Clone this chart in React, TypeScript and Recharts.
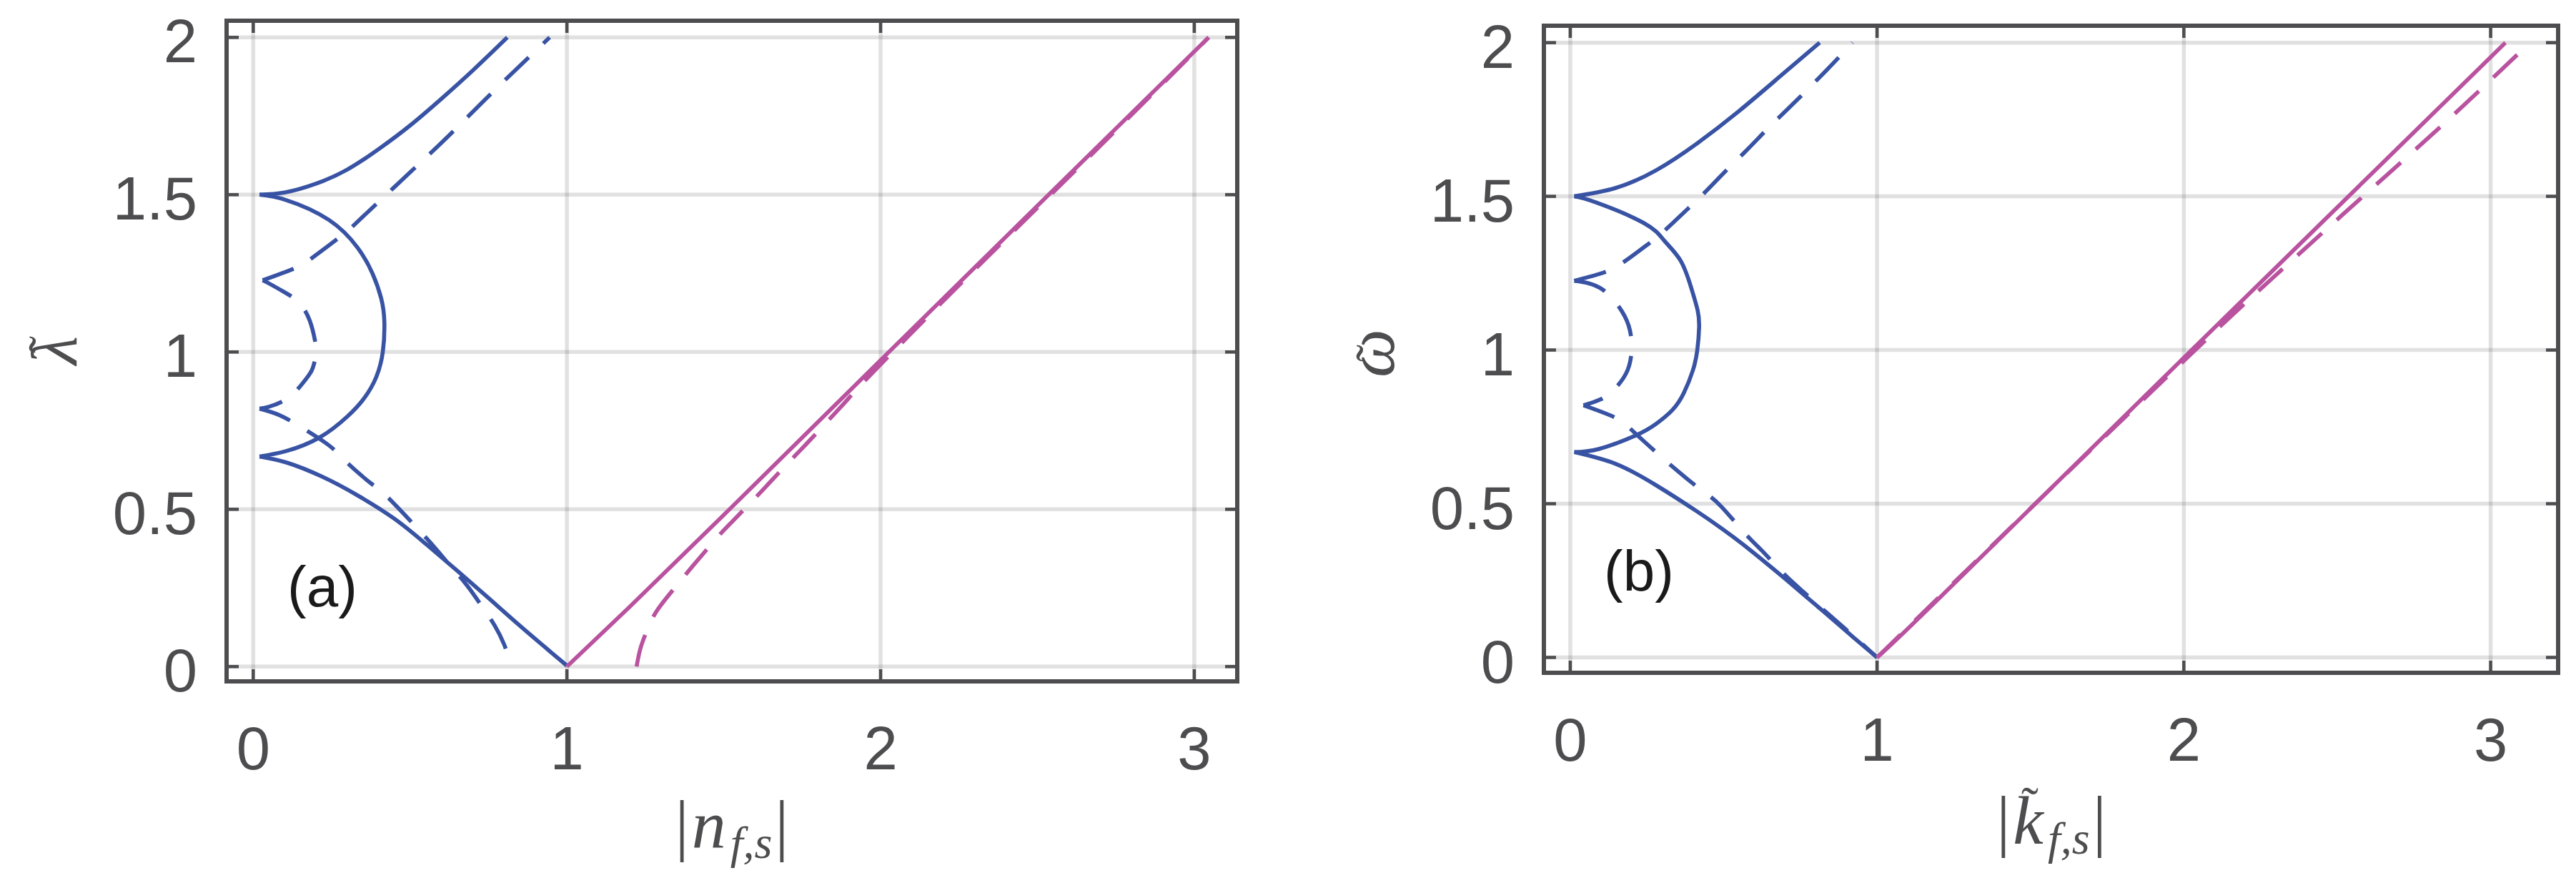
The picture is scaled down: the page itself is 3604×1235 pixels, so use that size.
import { LineChart, Line, XAxis, YAxis, CartesianGrid } from "recharts";

const xTicks = [0, 1, 2, 3];
const yTicks = [0, 0.5, 1, 1.5, 2];

// panel (a): lambda vs |n_f,s|
const aUpperSolid: [number, number][] = [
  [0.02, 1.5], [0.1, 1.507], [0.2, 1.535], [0.3, 1.58], [0.4, 1.645], [0.5, 1.72],
  [0.6, 1.805], [0.7, 1.895], [0.81, 2.0],
];
const aLoopSolid: [number, number][] = [
  [0.02, 1.5], [0.105, 1.483], [0.241, 1.42], [0.333, 1.331], [0.38, 1.25], [0.408, 1.17],
  [0.418, 1.095], [0.413, 1.0], [0.392, 0.92], [0.355, 0.855], [0.3, 0.795], [0.211, 0.728],
  [0.105, 0.685], [0.02, 0.668],
];
const aLowerSolid: [number, number][] = [
  [0.02, 0.668], [0.105, 0.649], [0.219, 0.604], [0.333, 0.544], [0.45, 0.47], [0.55, 0.39],
  [0.65, 0.305], [0.75, 0.218], [0.85, 0.13], [0.95, 0.045], [1.0, 0.003],
];
const aUpperDash: [number, number][] = [
  [0.03, 1.228], [0.134, 1.267], [0.196, 1.305], [0.287, 1.374], [0.344, 1.425], [0.5, 1.571],
  [0.631, 1.695], [0.762, 1.825], [0.945, 2.0],
];
const aLoopDash: [number, number][] = [
  [0.03, 1.228], [0.052, 1.217], [0.1, 1.19], [0.146, 1.157], [0.18, 1.1], [0.198, 1.03],
  [0.2, 0.99], [0.19, 0.95], [0.177, 0.926], [0.14, 0.88], [0.097, 0.845], [0.05, 0.826], [0.02, 0.82],
];
const aLowerDash: [number, number][] = [
  [0.02, 0.82], [0.082, 0.8], [0.148, 0.764], [0.239, 0.705], [0.292, 0.655], [0.376, 0.582],
  [0.429, 0.538], [0.553, 0.407], [0.62, 0.33], [0.68, 0.26], [0.73, 0.19], [0.77, 0.13],
  [0.8, 0.07], [0.812, 0.03], [0.815, 0.0],
];
const aPinkSolid: [number, number][] = [
  [1.0, 0.0], [1.2, 0.19], [1.5, 0.482], [2.0, 0.974], [2.5, 1.465], [3.046, 2.0],
];
const aPinkDash: [number, number][] = [
  [1.222, 0.0], [1.235, 0.06], [1.257, 0.119], [1.292, 0.185], [1.361, 0.271], [1.403, 0.322],
  [1.478, 0.409], [1.526, 0.46], [1.604, 0.54], [1.651, 0.59], [1.727, 0.67], [1.775, 0.72],
  [1.859, 0.81], [1.9, 0.855], [1.98, 0.94], [2.3, 1.262], [2.7, 1.655], [3.046, 2.0],
];

// panel (b): omega vs |k_f,s|
const bUpperSolid: [number, number][] = [
  [0.013, 1.5], [0.147, 1.527], [0.28, 1.585], [0.413, 1.672], [0.547, 1.775], [0.68, 1.887],
  [0.813, 2.0],
];
const bLoopSolid: [number, number][] = [
  [0.013, 1.5], [0.084, 1.48], [0.24, 1.413], [0.307, 1.355], [0.36, 1.29], [0.395, 1.2],
  [0.415, 1.13], [0.42, 1.075], [0.414, 1.0], [0.4, 0.935], [0.37, 0.86], [0.333, 0.805],
  [0.28, 0.76], [0.213, 0.722], [0.093, 0.678], [0.013, 0.668],
];
const bLowerSolid: [number, number][] = [
  [0.013, 0.668], [0.147, 0.63], [0.28, 0.56], [0.413, 0.475], [0.493, 0.42], [0.573, 0.36],
  [0.693, 0.262], [0.76, 0.205], [0.84, 0.137], [0.92, 0.068], [1.0, 0.0],
];
const bUpperDash: [number, number][] = [
  [0.013, 1.225], [0.093, 1.247], [0.16, 1.277], [0.253, 1.344], [0.307, 1.388], [0.387, 1.463],
  [0.44, 1.514], [0.52, 1.596], [0.573, 1.648], [0.653, 1.73], [0.707, 1.782], [0.833, 1.908],
  [0.92, 2.0],
];
const bLoopDash: [number, number][] = [
  [0.013, 1.225], [0.105, 1.197], [0.177, 1.111], [0.198, 1.045], [0.2, 1.0], [0.187, 0.935],
  [0.147, 0.876], [0.1, 0.84], [0.043, 0.82],
];
const bLowerDash: [number, number][] = [
  [0.043, 0.82], [0.147, 0.78], [0.213, 0.728], [0.347, 0.609], [0.44, 0.535], [0.493, 0.49],
  [0.573, 0.4], [0.627, 0.345], [0.693, 0.275], [0.76, 0.213], [0.84, 0.142], [0.92, 0.072], [1.0, 0.0],
];
const bPinkSolid: [number, number][] = [
  [1.0, 0.0], [1.2, 0.19], [2.0, 0.975], [3.048, 2.0],
];
const bPinkDash: [number, number][] = [
  [1.0, 0.0], [1.5, 0.485], [2.0, 0.965], [2.289, 1.234], [2.573, 1.49], [2.857, 1.745], [3.128, 2.0],
];

const BLUE = "#3953a4";
const PINK = "#b9529f";
const AXIS = "#4d4d4f";
const GRID = "rgba(40,40,50,0.14)";
const SANS = "'Liberation Sans', Arial, Helvetica, sans-serif";
const SERIF = "'Liberation Serif', 'Times New Roman', serif";
const DASH = "46 28";

const pts = (arr: [number, number][]) => arr.map(([x, y]) => ({ x, y }));

type Series = { data: [number, number][]; color: string; dashed?: boolean };

const seriesA: Series[] = [
  { data: aUpperSolid, color: BLUE },
  { data: aLoopSolid, color: BLUE },
  { data: aLowerSolid, color: BLUE },
  { data: aUpperDash, color: BLUE, dashed: true },
  { data: aLoopDash, color: BLUE, dashed: true },
  { data: aLowerDash, color: BLUE, dashed: true },
  { data: aPinkSolid, color: PINK },
  { data: aPinkDash, color: PINK, dashed: true },
];
const seriesB: Series[] = [
  { data: bUpperSolid, color: BLUE },
  { data: bLoopSolid, color: BLUE },
  { data: bLowerSolid, color: BLUE },
  { data: bUpperDash, color: BLUE, dashed: true },
  { data: bLoopDash, color: BLUE, dashed: true },
  { data: bLowerDash, color: BLUE, dashed: true },
  { data: bPinkSolid, color: PINK },
  { data: bPinkDash, color: PINK, dashed: true },
];

const axisLine = { stroke: AXIS, strokeWidth: 6, strokeLinecap: "square" as const };
const tickLine = { stroke: AXIS, strokeWidth: 4.5 };
const tickText = { fill: AXIS, fontSize: 85, fontFamily: SANS };
const noText = () => <g />;

function Panel({
  left, width, margin, yAxisWidth, xAxisHeight, xDomain, yDomain, series,
}: {
  left: number;
  width: number;
  margin: { top: number; right: number; left: number; bottom: number };
  yAxisWidth: number;
  xAxisHeight: number;
  xDomain: [number, number];
  yDomain: [number, number];
  series: Series[];
}) {
  return (
    <div style={{ position: "absolute", left, top: 0 }}>
      <LineChart width={width} height={1235} margin={margin}>
        <CartesianGrid xAxisId="b" yAxisId="l" stroke={GRID} strokeWidth={5.5} />
        <XAxis
          xAxisId="b" dataKey="x" type="number" domain={xDomain} allowDataOverflow
          ticks={xTicks} interval={0} height={xAxisHeight} tickSize={-17} tickMargin={80}
          axisLine={axisLine} tickLine={tickLine} tick={tickText}
        />
        <XAxis
          xAxisId="t" orientation="top" dataKey="x" type="number" domain={xDomain} allowDataOverflow
          ticks={xTicks} interval={0} height={2} tickSize={-17}
          axisLine={axisLine} tickLine={tickLine} tick={noText}
        />
        <YAxis
          yAxisId="l" type="number" domain={yDomain} allowDataOverflow
          ticks={yTicks} interval={0} width={yAxisWidth} tickSize={-17} tickMargin={58}
          axisLine={axisLine} tickLine={tickLine} tick={{ ...tickText, dy: 5 }}
        />
        <YAxis
          yAxisId="r" orientation="right" type="number" domain={yDomain} allowDataOverflow
          ticks={yTicks} interval={0} width={2} tickSize={-17}
          axisLine={axisLine} tickLine={tickLine} tick={noText}
        />
        {series.map((s, i) => (
          <Line
            key={i}
            xAxisId="b"
            yAxisId="l"
            data={pts(s.data)}
            dataKey="y"
            type="natural"
            dot={false}
            activeDot={false}
            stroke={s.color}
            strokeWidth={5.6}
            strokeDasharray={s.dashed ? DASH : undefined}
            isAnimationActive={false}
          />
        ))}
      </LineChart>
    </div>
  );
}

export default function App() {
  return (
    <div style={{ position: "absolute", left: 0, top: 0, width: 3604, height: 1235, background: "#fff" }}>
      <Panel
        left={0}
        width={1800}
        margin={{ top: 27, right: 67, left: 0, bottom: 0 }}
        yAxisWidth={317}
        xAxisHeight={282}
        xDomain={[-0.085, 3.137]}
        yDomain={[-0.047, 2.053]}
        series={seriesA}
      />
      <Panel
        left={1800}
        width={1804}
        margin={{ top: 34, right: 23, left: 0, bottom: 0 }}
        yAxisWidth={360}
        xAxisHeight={294}
        xDomain={[-0.086, 3.22]}
        yDomain={[-0.05, 2.055]}
        series={seriesB}
      />
      <svg width={3604} height={1235} style={{ position: "absolute", left: 0, top: 0, pointerEvents: "none" }}>
        <text x={451} y={848} textAnchor="middle" fontFamily={SANS} fontSize={80} fill="#1a1a1a">(a)</text>
        <text x={2293} y={826} textAnchor="middle" fontFamily={SANS} fontSize={80} fill="#1a1a1a">(b)</text>

        <text x={1024} y={1186} textAnchor="middle" fontFamily={SERIF} fontSize={96} fill={AXIS}>
          <tspan>|</tspan>
          <tspan fontStyle="italic" dx={4}>n</tspan>
          <tspan fontStyle="italic" fontSize={64} dy={14} dx={6}>f,s</tspan>
          <tspan dy={-14} dx={4}>|</tspan>
        </text>
        <text x={2870} y={1180} textAnchor="middle" fontFamily={SERIF} fontSize={96} fill={AXIS}>
          <tspan>|</tspan>
          <tspan fontStyle="italic" dx={4}>k</tspan>
          <tspan fontStyle="italic" fontSize={64} dy={14} dx={6}>f,s</tspan>
          <tspan dy={-14} dx={4}>|</tspan>
        </text>
        <text x={2840} y={1150} textAnchor="middle" fontFamily={SERIF} fontSize={72} fill={AXIS}>˜</text>

        <g transform="translate(107,490) rotate(-90)">
          <text x={0} y={0} textAnchor="middle" fontFamily={SERIF} fontStyle="italic" fontSize={92} fill={AXIS}>λ</text>
          <text x={8} y={-18} textAnchor="middle" fontFamily={SERIF} fontSize={72} fill={AXIS}>˜</text>
        </g>
        <g transform="translate(1950,494) rotate(-90)">
          <text x={0} y={0} textAnchor="middle" fontFamily={SERIF} fontStyle="italic" fontSize={96} fill={AXIS}>ω</text>
          <text x={0} y={-4} textAnchor="middle" fontFamily={SERIF} fontSize={72} fill={AXIS}>˜</text>
        </g>
      </svg>
    </div>
  );
}
